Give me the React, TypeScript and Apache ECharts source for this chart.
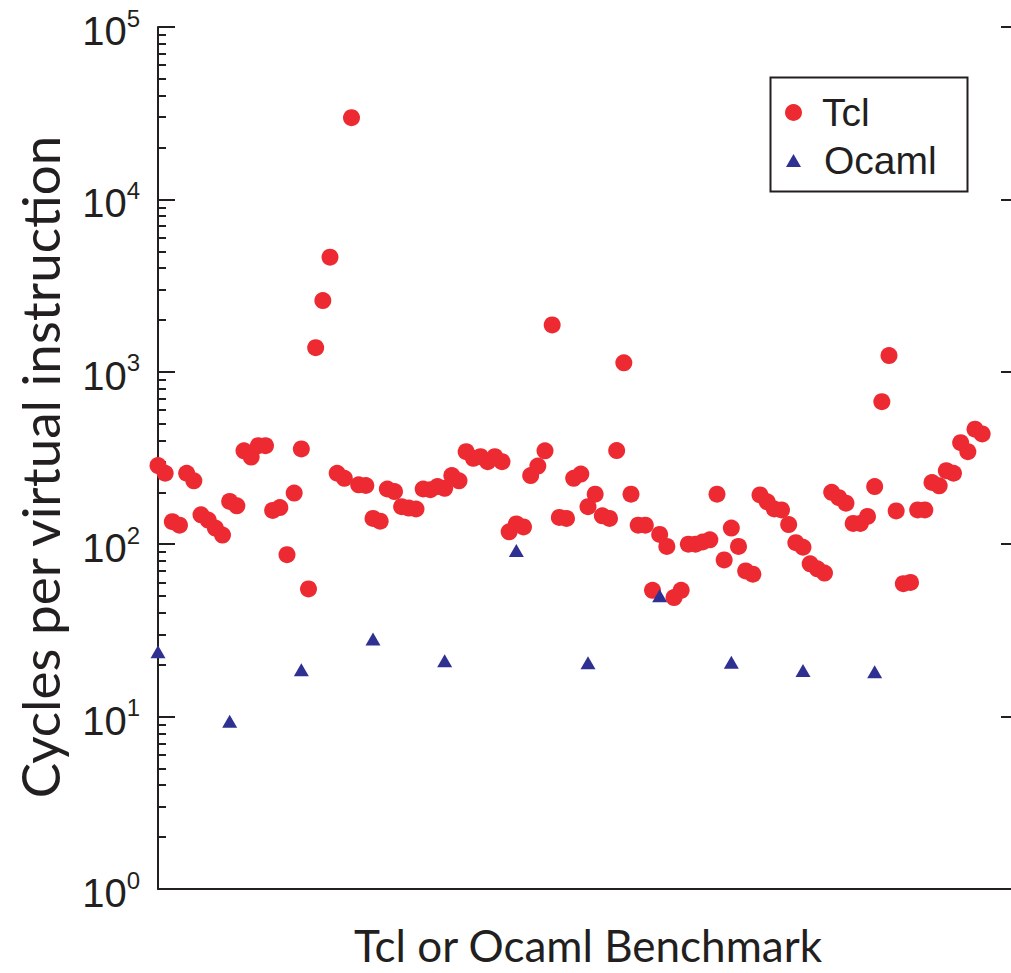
import React, { useEffect, useRef } from "react";
import * as echarts from "echarts";

// Tcl benchmarks (one point per benchmark, in order)
const tclValues: number[] = [
  286, 258, 135, 129, 258, 233, 148, 138, 124, 113,
  177, 167, 348, 320, 373, 373, 157, 163, 87, 198,
  357, 55, 1381, 2588, 4624, 258, 241, 29800, 221, 219,
  141, 136, 209, 202, 165, 162, 160, 209, 207, 216,
  211, 250, 233, 344, 315, 322, 301, 322, 301, 118,
  131, 126, 250, 284, 348, 1871, 143, 141, 241, 255,
  165, 195, 146, 141, 349, 1127, 195, 129, 129, 54,
  114, 97, 49, 54, 100, 100, 103, 106, 195, 81,
  124, 97, 70, 67, 193, 176, 160, 158, 130, 102,
  96, 77, 72, 68, 200, 186, 173, 132, 132, 145,
  216, 671, 1242, 156, 59, 60, 158, 158, 228, 218,
  267, 258, 388, 344, 465, 436,
];

// Ocaml benchmarks: position on the benchmark axis and value
const ocamlIndex: number[] = [0, 10, 20, 30, 40, 50, 60, 70, 80, 90, 100];
const ocamlValues: number[] = [23.8, 9.4, 18.7, 28.2, 21.1, 92, 20.5, 50.3, 20.7, 18.5, 18.2];

// Axis ticks
const yMajorTicks: number[] = [1, 10, 100, 1000, 10000, 100000];
const minorMantissas: number[] = [2, 3, 4, 5, 6, 7, 8, 9];
const minorDecades: number[] = [1, 10, 100, 1000, 10000];
const yMinorTicks: number[] = minorDecades.flatMap((d) => minorMantissas.map((m) => m * d));

const xMin = 0;
const xMax = 120;

const RED = "#ED2A32";
const BLUE = "#2E3192";
const INK = "#231F20";

export default function App() {
  const ref = useRef<HTMLDivElement>(null);

  useEffect(() => {
    if (!ref.current) return;
    const chart = echarts.init(ref.current, undefined, { renderer: "svg" });

    const tclData = tclValues.map((v, i) => [i, v]);
    const ocamlData = ocamlIndex.map((x, i) => [x, ocamlValues[i]]);

    const option: any = {
      animation: false,
      backgroundColor: "#ffffff",
      grid: {
        left: 158,
        top: 27,
        width: 860,
        height: 862,
        containLabel: false,
        outerBoundsMode: "none",
      },
      xAxis: {
        type: "value",
        min: xMin,
        max: xMax,
        axisLine: { show: true, lineStyle: { color: INK, width: 2 } },
        axisTick: { show: false },
        axisLabel: { show: false },
        splitLine: { show: false },
        name: "Tcl or Ocaml Benchmark",
        nameLocation: "middle",
        nameGap: 37,
        nameTextStyle: { fontFamily: "Lato", fontSize: 44, lineHeight: 38, color: INK },
      },
      yAxis: [
        {
          type: "log",
          logBase: 10,
          min: 1,
          max: 100000,
          position: "left",
          axisLine: { show: true, lineStyle: { color: INK, width: 2 } },
          axisTick: {
            show: true,
            inside: true,
            length: 17,
            lineStyle: { color: INK, width: 2 },
            customValues: yMajorTicks,
          },
          axisLabel: {
            show: true,
            margin: 18,
            customValues: yMajorTicks,
            formatter: (v: number) => `{b|10}{s|${Math.round(Math.log10(v))}}`,
            rich: {
              b: { fontFamily: "Liberation Sans", fontSize: 40, lineHeight: 42, color: INK, padding: [8, 0, 0, 0] },
              s: { fontFamily: "Liberation Sans", fontSize: 24, lineHeight: 25, color: INK, verticalAlign: "top" },
            },
          },
          splitLine: { show: false },
          name: "Cycles per virtual instruction",
          nameLocation: "middle",
          nameGap: 92,
          nameTextStyle: { fontFamily: "Lato", fontSize: 53, color: INK, padding: [0, 18, 0, 0] },
        },
        {
          type: "log",
          logBase: 10,
          min: 1,
          max: 100000,
          position: "left",
          axisLine: { show: false },
          axisTick: {
            show: true,
            inside: true,
            length: 8,
            lineStyle: { color: INK, width: 2 },
            customValues: yMinorTicks,
          },
          axisLabel: { show: false },
          splitLine: { show: false },
        },
        {
          type: "log",
          logBase: 10,
          min: 1,
          max: 100000,
          position: "right",
          axisLine: { show: true, lineStyle: { color: INK, width: 2 } },
          axisTick: {
            show: true,
            inside: true,
            length: 17,
            lineStyle: { color: INK, width: 2 },
            customValues: yMajorTicks,
          },
          axisLabel: { show: false },
          splitLine: { show: false },
        },
      ],
      legend: [
        {
          data: [{ name: "Tcl", icon: "circle" }],
          left: 785,
          top: 93,
          padding: 0,
          itemWidth: 17,
          itemHeight: 17,
          selectedMode: false,
          formatter: "{t|{name}}",
          textStyle: {
            color: INK,
            fontFamily: "Liberation Sans",
            fontSize: 39,
            rich: { t: { fontFamily: "Liberation Sans", fontSize: 39, color: INK, padding: [0, 0, 0, 15] } },
          },
        },
        {
          data: [{ name: "Ocaml", icon: "triangle" }],
          left: 786,
          top: 141,
          padding: 0,
          itemWidth: 15,
          itemHeight: 13,
          selectedMode: false,
          formatter: "{t|{name}}",
          textStyle: {
            color: INK,
            fontFamily: "Liberation Sans",
            fontSize: 39,
            rich: { t: { fontFamily: "Liberation Sans", fontSize: 39, color: INK, padding: [0, 0, 0, 18] } },
          },
        },
      ],
      graphic: [
        {
          type: "rect",
          left: 768,
          top: 75,
          shape: { x: 0, y: 0, width: 197, height: 114 },
          style: { fill: "none", stroke: INK, lineWidth: 2 },
          z: 10,
        },
      ],
      series: [
        {
          name: "Tcl",
          type: "scatter",
          xAxisIndex: 0,
          yAxisIndex: 0,
          symbol: "circle",
          symbolSize: 17,
          itemStyle: { color: RED, opacity: 1 },
          data: tclData,
          z: 3,
        },
        {
          name: "Ocaml",
          type: "scatter",
          xAxisIndex: 0,
          yAxisIndex: 0,
          symbol: "triangle",
          symbolSize: [15, 13],
          itemStyle: { color: BLUE, opacity: 1 },
          data: ocamlData,
          z: 4,
        },
      ],
    };

    chart.setOption(option);
    return () => {
      chart.dispose();
    };
  }, []);

  return (
    <div
      style={{
        position: "fixed",
        left: 0,
        top: 0,
        width: 1011,
        height: 973,
        overflow: "hidden",
        background: "#ffffff",
      }}
    >
      <div ref={ref} style={{ width: 1030, height: 973 }} />
    </div>
  );
}
